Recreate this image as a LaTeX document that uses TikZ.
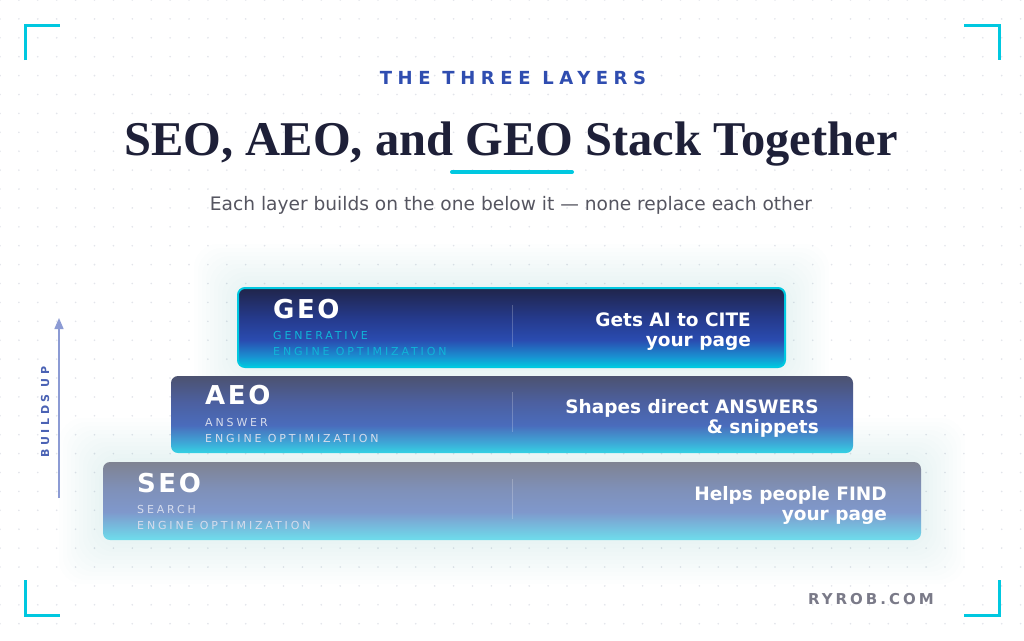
\documentclass[tikz,border=0pt]{standalone}
\usepackage{fontspec}
\setmainfont{DejaVu Sans}
\newfontfamily\titlefont{Liberation Serif}
\newfontfamily\kickerfont[LetterSpace=31]{DejaVu Sans}
\newfontfamily\bigfont[LetterSpace=10]{DejaVu Sans}
\newfontfamily\smallfont[LetterSpace=26]{DejaVu Sans}
\newfontfamily\brandfont[LetterSpace=20]{DejaVu Sans}
\newfontfamily\upfont[LetterSpace=32]{DejaVu Sans}
\usetikzlibrary{arrows.meta}
\definecolor{cyanacc}{HTML}{00C8E0}
\definecolor{titlecol}{HTML}{1E2038}
\definecolor{kicker}{HTML}{2F4DB0}
\definecolor{subcol}{HTML}{555560}
\definecolor{dotcol}{HTML}{E2E4EA}
\definecolor{arrowcol}{HTML}{8C9BD4}
\definecolor{upcol}{HTML}{4A62B4}
\definecolor{brandcol}{HTML}{7A7A88}
\definecolor{geolbl}{HTML}{10B4D8}
\definecolor{lightlbl}{HTML}{D6DCEC}
% GEO shading
\definecolor{ga}{HTML}{20254A}\definecolor{gb}{HTML}{253A8C}\definecolor{gc}{HTML}{2A4CB0}\definecolor{gd}{HTML}{1A8ED0}\definecolor{ge}{HTML}{00C8E0}
\pgfdeclareverticalshading{geoshade}{100bp}{color(0bp)=(ge); color(25bp)=(ge); color(32bp)=(gd); color(42bp)=(gc); color(56bp)=(gb); color(75bp)=(ga); color(100bp)=(ga)}
% AEO shading
\definecolor{aa}{HTML}{4C5270}\definecolor{ab}{HTML}{4C60A0}\definecolor{ac}{HTML}{4A6CBC}\definecolor{ad}{HTML}{3EA6D6}\definecolor{ae}{HTML}{34D2E4}
\pgfdeclareverticalshading{aeoshade}{100bp}{color(0bp)=(ae); color(25bp)=(ae); color(32bp)=(ad); color(43bp)=(ac); color(58bp)=(ab); color(75bp)=(aa); color(100bp)=(aa)}
% SEO shading
\definecolor{sa}{HTML}{7F8392}\definecolor{sb}{HTML}{7F90B8}\definecolor{sc}{HTML}{7F98CC}\definecolor{sd}{HTML}{74C2E0}\definecolor{se}{HTML}{6EDDEC}
\pgfdeclareverticalshading{seoshade}{100bp}{color(0bp)=(se); color(25bp)=(se); color(32bp)=(sd); color(43bp)=(sc); color(58bp)=(sb); color(75bp)=(sa); color(100bp)=(sa)}
\tikzset{
  corner/.style={draw=cyanacc, line width=3pt},
  layerbox/.style={rounded corners=7pt},
  bigtxt/.style={anchor=base west, text=white, font=\bigfont\bfseries\fontsize{26}{26}\selectfont, inner sep=0pt},
  smalltxt/.style={anchor=base west, font=\smallfont\fontsize{11}{11}\selectfont, inner sep=0pt},
  righttxt/.style={anchor=base east, text=white, align=right, font=\bfseries\fontsize{18.5}{19.5}\selectfont, inner sep=0pt},
  divider/.style={draw=white, draw opacity=0.22, line width=1pt},
  glow/.style={fill=cyanacc, fill opacity=0.007, rounded corners=24pt},
}
\begin{document}
\begin{tikzpicture}[x=1pt,y=-1pt]
\useasboundingbox (0,0) rectangle (1024,640);
\fill[white] (0,0) rectangle (1024,640);
% dot grid
\foreach \i in {0,...,54} {
  \foreach \j in {0,...,34} {
    \fill[dotcol] ({\i*18.9},{\j*18.9}) circle (0.9);
  }
}
% corner brackets
\draw[corner] (25,60) -- (25,25) -- (60,25);
\draw[corner] (964,25) -- (999,25) -- (999,60);
\draw[corner] (25,580) -- (25,615) -- (60,615);
\draw[corner] (999,580) -- (999,615) -- (964,615);
% header
\node[font=\kickerfont\bfseries\fontsize{18}{18}\selectfont, text=kicker, inner sep=0pt] (kick) at (513,78) {THE THREE LAYERS};
\node[font=\titlefont\bfseries\fontsize{48.5}{48.5}\selectfont, text=titlecol, inner sep=0pt, anchor=base] (title) at (511,155) {SEO, AEO, and GEO Stack Together};
\draw[cyanacc, line width=4pt, line cap=round] (452,172) -- (572,172);
\node[font=\fontsize{18.6}{18.6}\selectfont, text=subcol, inner sep=0pt] (sub) at (511,205) {Each layer builds on the one below it — none replace each other};
% glow
\foreach \d in {4,8,...,44} {
  \fill[glow] ({103-\d},{462-\d}) rectangle ({921+\d},{540+\d});
  \fill[glow] ({238-\d},{288-\d}) rectangle ({785+\d},{367+\d});
}
% SEO box
\shade[layerbox, shading=seoshade] (103,462) rectangle (921,540);
\coordinate (seoA) at (512,479); \coordinate (seoB) at (512,519);
\draw[divider] (seoA) -- (seoB);
\node[bigtxt] (seo) at (137,492) {SEO};
\node[smalltxt, text=lightlbl] (seo1) at (137,513) {SEARCH};
\node[smalltxt, text=lightlbl] (seo2) at (137,529) {ENGINE OPTIMIZATION};
\node[righttxt] (seor) at (887,520) {Helps people FIND\\your page};
% AEO box
\shade[layerbox, shading=aeoshade] (171,376) rectangle (853,453);
\coordinate (aeoA) at (512,392); \coordinate (aeoB) at (512,432);
\draw[divider] (aeoA) -- (aeoB);
\node[bigtxt] (aeo) at (205,404) {AEO};
\node[smalltxt, text=lightlbl] (aeo1) at (205,426) {ANSWER};
\node[smalltxt, text=lightlbl] (aeo2) at (205,442) {ENGINE OPTIMIZATION};
\node[righttxt] (aeor) at (819,433) {Shapes direct ANSWERS\\\& snippets};
% GEO box
\shade[layerbox, shading=geoshade] (238,288) rectangle (785,367);
\draw[layerbox, draw=cyanacc, line width=2pt] (238,288) rectangle (785,367);
\coordinate (geoA) at (512,305); \coordinate (geoB) at (512,347);
\draw[divider] (geoA) -- (geoB);
\node[bigtxt] (geo) at (273,318) {GEO};
\node[smalltxt, text=geolbl] (geo1) at (273,339) {GENERATIVE};
\node[smalltxt, text=geolbl] (geo2) at (273,355) {ENGINE OPTIMIZATION};
\node[righttxt] (geor) at (751,346) {Gets AI to CITE\\your page};
% builds up
\coordinate (upS) at (59,498);
\coordinate (upE) at (59,318);
\draw[arrowcol, line width=1.5pt, -{Triangle[length=11pt,width=9pt]}] (upS) -- (upE);
\node[rotate=90, font=\upfont\bfseries\fontsize{11}{11}\selectfont, text=upcol, inner sep=0pt] (up) at (45,412) {BUILDS UP};
% brand
\node[anchor=base east, font=\brandfont\bfseries\fontsize{15}{15}\selectfont, text=brandcol, inner sep=0pt] (brand) at (934,604) {RYROB.COM};
\end{tikzpicture}
\end{document}
